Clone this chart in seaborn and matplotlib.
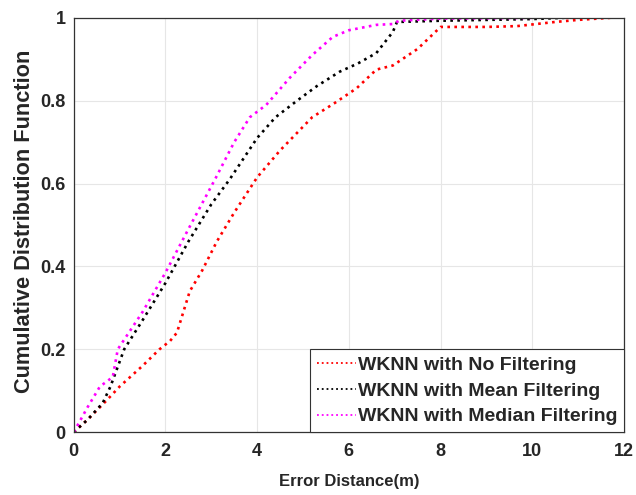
import matplotlib
matplotlib.use("Agg")
import matplotlib.pyplot as plt
import seaborn as sns
import pandas as pd

# Series (Error distance in m, CDF)
no_filter_x = [0, 0.3, 0.72, 1.0, 1.5, 1.87, 2.1, 2.25, 2.53, 2.8, 3.12, 3.5, 4.0, 4.5, 5.2, 5.7, 6.17, 6.6, 6.96, 7.5, 8.0, 9.0, 9.67, 10.5, 11.0, 11.7]
no_filter_y = [0, 0.03, 0.077, 0.11, 0.16, 0.2, 0.22, 0.24, 0.34, 0.39, 0.46, 0.53, 0.615, 0.68, 0.76, 0.795, 0.83, 0.875, 0.885, 0.925, 0.978, 0.978, 0.98, 0.99, 0.995, 1.0]

mean_x = [0, 0.3, 0.63, 0.8, 1.1, 1.5, 2.0, 2.5, 3.0, 3.4, 4.0, 4.4, 4.87, 5.3, 5.8, 6.2, 6.6, 6.96, 7.05, 8.0, 9.0, 10.0, 10.7]
mean_y = [0, 0.03, 0.07, 0.11, 0.2, 0.27, 0.36, 0.46, 0.55, 0.61, 0.71, 0.76, 0.80, 0.835, 0.87, 0.89, 0.915, 0.966, 0.99, 0.993, 0.995, 0.997, 1.0]

median_x = [0, 0.3, 0.57, 0.85, 0.96, 1.5, 2.0, 2.5, 3.08, 3.5, 3.84, 4.2, 4.71, 5.2, 5.65, 6.0, 6.6, 6.96, 7.1, 8.0, 9.0, 10.0]
median_y = [0, 0.06, 0.11, 0.133, 0.2, 0.29, 0.385, 0.49, 0.61, 0.7, 0.76, 0.79, 0.855, 0.91, 0.954, 0.97, 0.983, 0.985, 0.993, 0.998, 0.999, 1.0]

labels = ["WKNN with No Filtering", "WKNN with Mean Filtering", "WKNN with Median Filtering"]
colors = ["#FF0000", "#000000", "#FF00FF"]

x_ticks = [0, 2, 4, 6, 8, 10, 12]
y_ticks = [0, 0.2, 0.4, 0.6, 0.8, 1]
y_tick_labels = ["0", "0.2", "0.4", "0.6", "0.8", "1"]

sns.set_style("whitegrid")
plt.rcParams["font.family"] = ["Liberation Sans", "DejaVu Sans"]

fig = plt.figure(figsize=(6.36, 4.95), dpi=100)
ax = fig.add_axes([0.116, 0.127, 0.865, 0.837])

series = [(no_filter_x, no_filter_y), (mean_x, mean_y), (median_x, median_y)]
for (xs, ys), lab, col in zip(series, labels, colors):
    df = pd.DataFrame({"x": xs, "y": ys})
    sns.lineplot(data=df, x="x", y="y", ax=ax, color=col, linestyle=":",
                 linewidth=1.9, label=lab, sort=False, estimator=None)

ax.set_xlim(0, 12)
ax.set_ylim(0, 1)
ax.set_xticks(x_ticks)
ax.set_xticklabels([str(t) for t in x_ticks])
ax.set_yticks(y_ticks)
ax.set_yticklabels(y_tick_labels)
ax.grid(True, color="#e6e6e6", linewidth=0.8)
for sp in ax.spines.values():
    sp.set_visible(True)
    sp.set_color("#333333")
    sp.set_linewidth(0.9)
ax.tick_params(axis="both", direction="in", length=4, colors="#262626",
               labelsize=13)
ax.tick_params(axis="x", pad=8)
ax.tick_params(axis="y", pad=6)
for lbl in ax.get_xticklabels() + ax.get_yticklabels():
    lbl.set_fontweight("bold")

ax.set_xlabel("Error Distance(m)", fontsize=12, fontweight="bold", color="#262626")
ax.set_ylabel("Cumulative Distribution Function", fontsize=15.7, fontweight="bold", color="#262626")
ax.xaxis.set_label_coords(0.5, -0.102)
ax.yaxis.set_label_coords(-0.07, 0.51)

leg = ax.legend(loc="lower right", frameon=True, fancybox=False,
                prop={"weight": "bold", "size": 14}, handlelength=2.0,
                handletextpad=0.1, borderaxespad=0.0, borderpad=0.35,
                labelspacing=0.42)
leg.get_frame().set_edgecolor("#333333")
leg.get_frame().set_linewidth(0.8)
leg.get_frame().set_alpha(1)
for h in leg.get_lines():
    h.set_linewidth(1.3)

fig.savefig("out.png", dpi=100)
